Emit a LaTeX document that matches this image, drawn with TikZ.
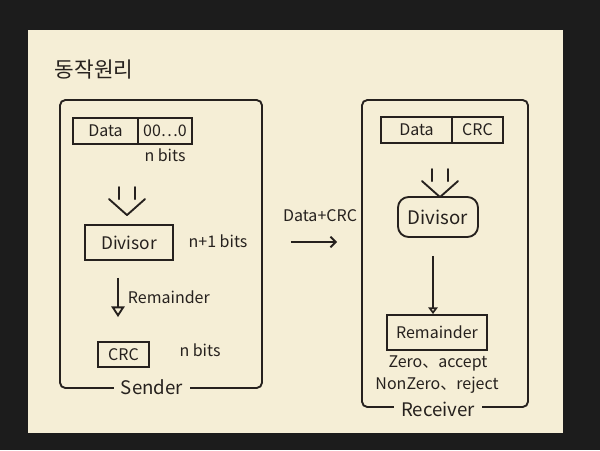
\documentclass[tikz,border=0pt]{standalone}
\usepackage{fontspec}
\setmainfont{Noto Sans CJK KR}
\usetikzlibrary{arrows.meta}
\definecolor{paper}{RGB}{245,238,214}
\definecolor{ink}{RGB}{38,33,30}
\definecolor{desk}{RGB}{28,28,28}
\tikzset{every picture/.style={line width=1.4pt}}
\tikzset{
  box/.style={draw=ink, inner sep=0pt, text=ink, font=\fontsize{12}{14}\selectfont},
  frame/.style={draw=ink, rounded corners=4pt, inner sep=0pt},
  note/.style={inner sep=0.75pt, text=ink, font=\fontsize{12}{14}\selectfont},
  tag/.style={note, fill=paper, inner xsep=5pt, font=\fontsize{14}{16}\selectfont},
  remarrow/.style={draw=ink, -{Triangle[open, length=8pt, width=10pt]}},
  sendarrow/.style={draw=ink, -{Straight Barb[length=4pt, width=8pt]}},
  widearrow/.pic={
    \draw[ink, line cap=round] (-8,0) -- (-8,-12) (8,0) -- (8,-12);
    \draw[ink, line cap=round, line join=round] (-18,-12) -- (0,-28) -- (18,-12);
  }
}

\begin{document}
\begin{tikzpicture}[x=0.75pt,y=0.75pt,yscale=-1,xscale=1]
		%desk and paper
		\fill[desk] (0,0) rectangle (600,450);
		\useasboundingbox (0,0) rectangle (600,450);
		\fill[paper] (28,30) rectangle (563,433);

		% Text Node
		\node[note, font=\fontsize{16}{18}\selectfont] (title) at (94,70) {동작원리};

		%Sender frame
		\node[frame, minimum width=151.5pt, minimum height=216pt] (sframe) at (161,244) {};
		\node[tag] (sender) at (152,387) {Sender};

		%Sender: Data | 00...0
		\node[box, minimum width=48.75pt, minimum height=19.5pt] (sdata) at (105.5,131) {Data};
		\node[box, minimum width=40.5pt, minimum height=19.5pt] (szeros) at (165,131) {00…0};
		\node[note] (snbits) at (165,155) {n bits};

		%Sender: Divisor
		\node[box, minimum width=66pt, minimum height=26.25pt, font=\fontsize{13}{15}\selectfont] (sdiv) at (129,242.5) {Divisor};
		\node[note] (sdivbits) at (218,241) {n+1 bits};
		\path (sdiv.north) ++(-2,-37) pic {widearrow};

		%Sender: Remainder -> CRC
		\node[box, minimum width=38.25pt, minimum height=18.75pt] (scrc) at (123.5,354.5) {CRC};
		\node[note] (sncrc) at (200,350) {n bits};
		\coordinate (sremtop) at ([xshift=-8.25pt,yshift=12.75pt]sdiv.south);
		\draw[remarrow, shorten >=18pt] (sremtop) -- (sremtop |- scrc.north);
		\node[note, anchor=west] (sremlabel) at (126,297) {Remainder};

		%Receiver frame
		\node[frame, minimum width=124.5pt, minimum height=230.25pt] (rframe) at (445,253.5) {};
		\node[tag] (receiver) at (438,409) {Receiver};

		%Receiver: Data | CRC
		\node[box, minimum width=53.25pt, minimum height=19.5pt] (rdata) at (416.5,130) {Data};
		\node[box, minimum width=38.25pt, minimum height=19.5pt] (rcrc) at (477.5,130) {CRC};

		%Receiver: Divisor
		\node[box, rounded corners=8pt, minimum width=60pt, minimum height=30pt, font=\fontsize{14}{16}\selectfont] (rdiv) at (438,217) {Divisor};
		\path (rdiv.north) ++(2,-27) pic {widearrow};

		%Receiver: Remainder
		\node[box, minimum width=75pt, minimum height=26.25pt] (rrem) at (437,332.5) {Remainder};
		\coordinate (rremtop) at ([xshift=-3.75pt,yshift=13.5pt]rdiv.south);
		\draw[draw=ink, -{Triangle[open, length=5pt, width=7pt]}] (rremtop) -- (rremtop |- rrem.north);
		\node[note] (rzero) at (438,363) {Zero、accept};
		\node[note] (rnonzero) at (437,385) {NonZero、reject};

		%Transfer
		\coordinate (xfer) at (314,242);
		\draw[sendarrow, shorten <=21pt, shorten >=18pt] (sframe.east |- xfer) -- (rframe.west |- xfer);
		\node[note] (xferlabel) at (320,216) {Data+CRC};

\end{tikzpicture}
\end{document}
